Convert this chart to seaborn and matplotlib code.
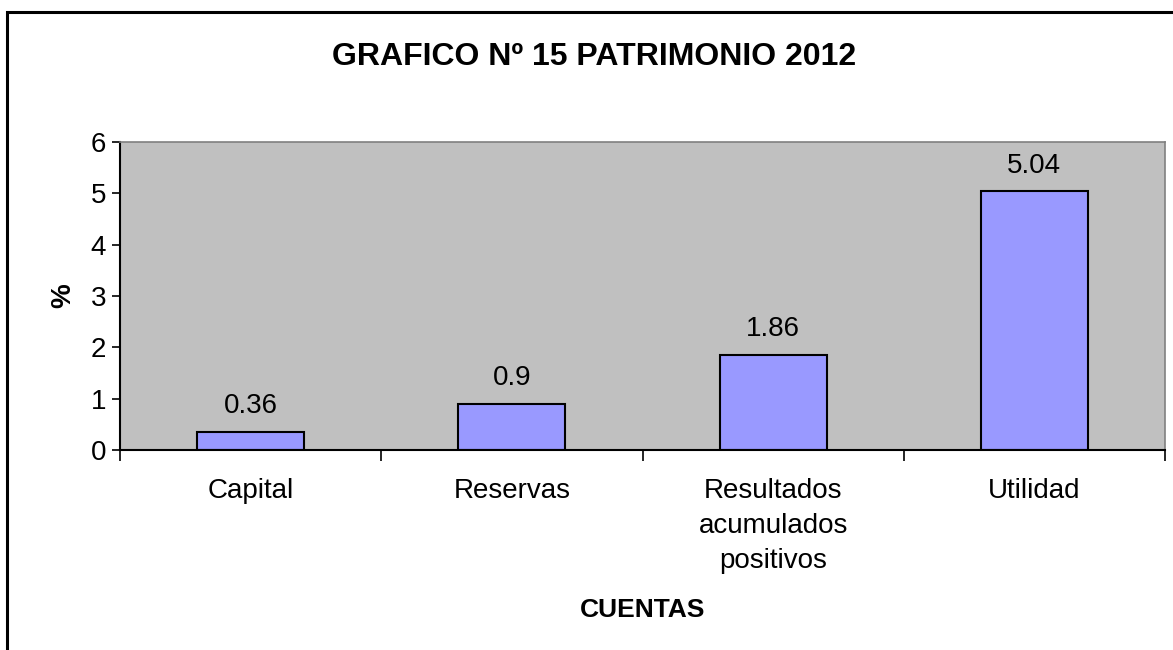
import matplotlib
matplotlib.use("Agg")
import matplotlib.pyplot as plt
import seaborn as sns
import pandas as pd

cuentas = ["Capital", "Reservas", "Resultados\nacumulados\npositivos", "Utilidad"]
porcentajes = [0.36, 0.9, 1.86, 5.04]
y_ticks = [0, 1, 2, 3, 4, 5, 6]

sns.set_style("white")
plt.rcParams["font.family"] = ["Liberation Sans", "DejaVu Sans"]
plt.rcParams["text.color"] = "black"
plt.rcParams["axes.labelcolor"] = "black"
plt.rcParams["xtick.color"] = "black"
plt.rcParams["ytick.color"] = "black"

df = pd.DataFrame({"cuenta": cuentas, "pct": porcentajes})

fig = plt.figure(figsize=(11.73, 6.5), dpi=100)
ax = fig.add_axes([120 / 1173, 1 - 450 / 650, 1045 / 1173, 308 / 650])
ax.set_facecolor("#C0C0C0")

sns.barplot(data=df, x="cuenta", y="pct", color="#9999FF", edgecolor="black",
            linewidth=1.5, width=0.41, saturation=1, ax=ax)

for i, v in enumerate(porcentajes):
    ax.annotate(f"{v:g}", (i, v), xytext=(0, 9), textcoords="offset points",
                ha="center", va="bottom", fontsize=20)

ax.set_xlim(-0.5, len(cuentas) - 0.5)
ax.set_ylim(0, 6)
ax.set_yticks(y_ticks)
ax.tick_params(axis="y", labelsize=20, length=6, width=1.2, direction="out", left=True, pad=4)
# ticks on category boundaries, labels centred
ax.set_xticks([i - 0.5 for i in range(len(cuentas) + 1)])
ax.set_xticklabels([])
ax.set_xticks(range(len(cuentas)), minor=True)
ax.set_xticklabels(cuentas, minor=True, fontsize=20, linespacing=1.46)
ax.tick_params(axis="x", which="major", length=8, width=1.2, direction="out", bottom=True)
ax.tick_params(axis="x", which="minor", length=0, pad=20)

for s in ["left", "bottom"]:
    ax.spines[s].set_color("black")
    ax.spines[s].set_linewidth(1.5)
for s in ["top", "right"]:
    ax.spines[s].set_color("#808080")
    ax.spines[s].set_linewidth(1.2)

ax.set_ylabel("%", fontsize=20, fontweight="bold", labelpad=10)
ax.set_xlabel("CUENTAS", fontsize=19, fontweight="bold", labelpad=17)
fig.text(594 / 1173, 1 - 57 / 650, "GRAFICO Nº 15 PATRIMONIO 2012",
         ha="center", va="center", fontsize=23, fontweight="bold")

# outer chart border (left and top edges visible)
fig.add_artist(plt.Rectangle((7 / 1173, -0.1), 1.2, 1.1 - 12 / 650,
                             transform=fig.transFigure, fill=False,
                             edgecolor="black", linewidth=2.2))

fig.savefig("out.png", dpi=100)
plt.close(fig)
